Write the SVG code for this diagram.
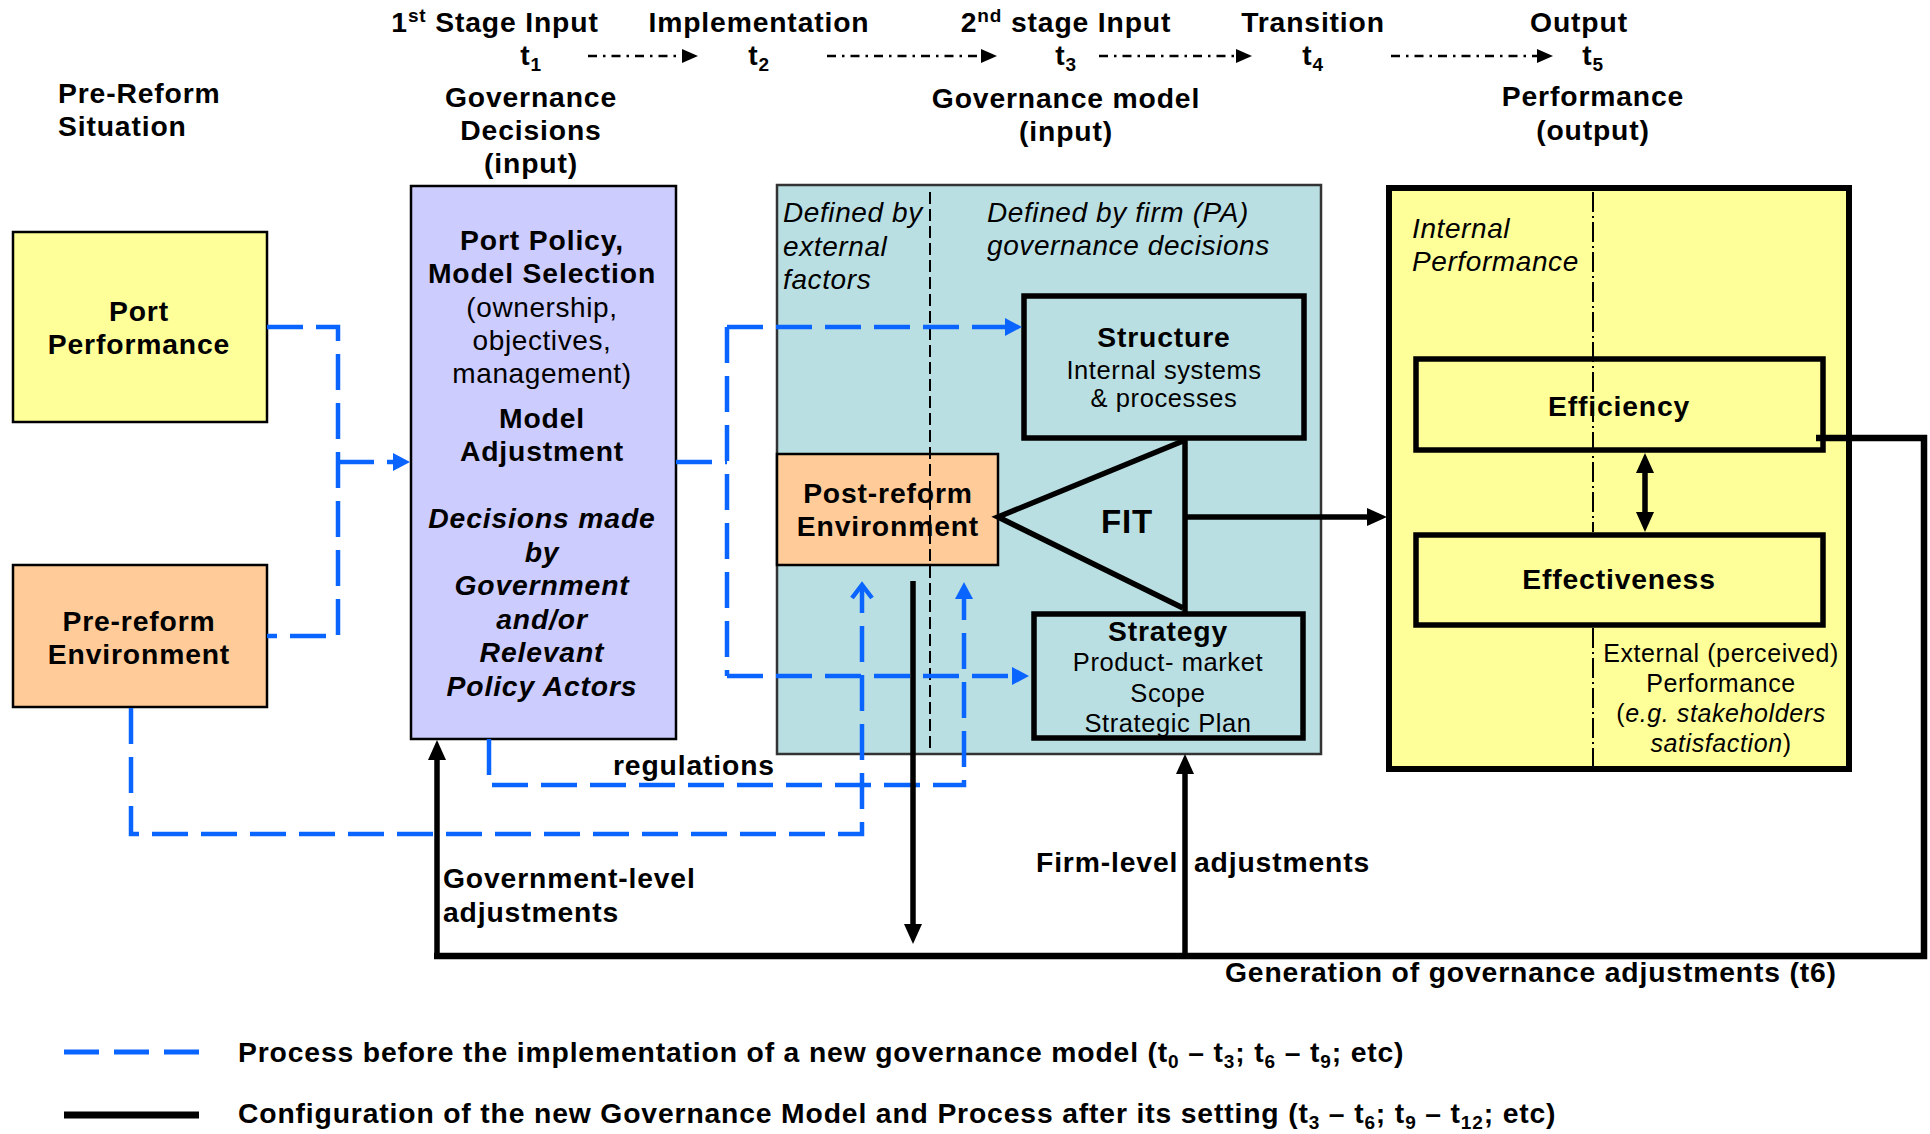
<svg xmlns="http://www.w3.org/2000/svg" width="1930" height="1134" viewBox="0 0 1930 1134">
<style>
text{font-family:"Liberation Sans",Arial,sans-serif;fill:#000}
.b{font-weight:bold;font-size:28.3px;letter-spacing:0.85px}
.r{font-size:25.5px;letter-spacing:0.6px}
.r28{font-size:28px;letter-spacing:0.6px}
.i{font-style:italic;font-size:28px;letter-spacing:0.6px}
.bi{font-weight:bold;font-style:italic;font-size:28.3px;letter-spacing:0.85px}
.m{text-anchor:middle}
.s{font-size:19px}
.box{stroke:#000;stroke-width:2.5}
.thick{fill:none;stroke:#000;stroke-width:5.5}
.blue{fill:none;stroke:#0A64FF;stroke-width:4.5;stroke-dasharray:36 13}
.blk{fill:none;stroke:#000;stroke-width:5.5}
.hdr{fill:none;stroke:#000;stroke-width:2.5;stroke-dasharray:9 6 2.5 6}
</style>
<defs>
<marker id="ah" markerUnits="userSpaceOnUse" markerWidth="16" markerHeight="14" refX="8" refY="7" orient="auto"><path d="M0,0L16,7L0,14z" fill="#000"/></marker>
<marker id="ab" markerUnits="userSpaceOnUse" markerWidth="20" markerHeight="18" refX="10" refY="9" orient="auto-start-reverse"><path d="M0,0L20,9L0,18z" fill="#000"/></marker>
<marker id="abl" markerUnits="userSpaceOnUse" markerWidth="17" markerHeight="18" refX="9" refY="9" orient="auto"><path d="M0,0L17,9L0,18z" fill="#0A64FF"/></marker>
<marker id="aop" markerUnits="userSpaceOnUse" markerWidth="18" markerHeight="24" refX="15" refY="12" orient="auto" style="overflow:visible"><path d="M2,2L15,12L2,22" fill="none" stroke="#0A64FF" stroke-width="4.5"/></marker>
</defs>
<rect width="1930" height="1134" fill="#fff"/>

<g id="header">
<text class="b m" x="495" y="32">1<tspan class="s" dy="-10">st</tspan><tspan dy="10"> Stage Input</tspan></text>
<text class="b m" x="759" y="32">Implementation</text>
<text class="b m" x="1066" y="32">2<tspan class="s" dy="-10">nd</tspan><tspan dy="10"> stage Input</tspan></text>
<text class="b m" x="1313" y="32">Transition</text>
<text class="b m" x="1579" y="32">Output</text>
<text class="b m" x="531" y="65">t<tspan class="s" dy="6">1</tspan></text>
<text class="b m" x="759" y="65">t<tspan class="s" dy="6">2</tspan></text>
<text class="b m" x="1066" y="65">t<tspan class="s" dy="6">3</tspan></text>
<text class="b m" x="1313" y="65">t<tspan class="s" dy="6">4</tspan></text>
<text class="b m" x="1593" y="65">t<tspan class="s" dy="6">5</tspan></text>
<path class="hdr" d="M588,56H690" marker-end="url(#ah)"/>
<path class="hdr" d="M827,56H989" marker-end="url(#ah)"/>
<path class="hdr" d="M1099,56H1244" marker-end="url(#ah)"/>
<path class="hdr" d="M1391,56H1545" marker-end="url(#ah)"/>
<text class="b" x="58" y="103">Pre-Reform</text>
<text class="b" x="58" y="136">Situation</text>
<text class="b m" x="531" y="107">Governance</text>
<text class="b m" x="531" y="140">Decisions</text>
<text class="b m" x="531" y="173">(input)</text>
<text class="b m" x="1066" y="108">Governance model</text>
<text class="b m" x="1066" y="141">(input)</text>
<text class="b m" x="1593" y="106">Performance</text>
<text class="b m" x="1593" y="140">(output)</text>
</g>

<g id="port-performance">
<rect class="box" x="13" y="232" width="254" height="190" fill="#FFFF99"/>
<text class="b m" x="139" y="321">Port</text>
<text class="b m" x="139" y="354">Performance</text>
</g>

<g id="pre-reform-environment">
<rect class="box" x="13" y="565" width="254" height="142" fill="#FFCC99"/>
<text class="b m" x="139" y="631">Pre-reform</text>
<text class="b m" x="139" y="664">Environment</text>
</g>

<g id="governance-decisions">
<rect class="box" x="411" y="186" width="265" height="553" fill="#CCCCFF"/>
<text class="b m" x="542" y="250">Port Policy,</text>
<text class="b m" x="542" y="283">Model Selection</text>
<text class="r28 m" x="542" y="317">(ownership,</text>
<text class="r28 m" x="542" y="350">objectives,</text>
<text class="r28 m" x="542" y="383">management)</text>
<text class="b m" x="542" y="428">Model</text>
<text class="b m" x="542" y="461">Adjustment</text>
<text class="bi m" x="542" y="528">Decisions made</text>
<text class="bi m" x="542" y="562">by</text>
<text class="bi m" x="542" y="595">Government</text>
<text class="bi m" x="542" y="629">and/or</text>
<text class="bi m" x="542" y="662">Relevant</text>
<text class="bi m" x="542" y="696">Policy Actors</text>
</g>

<g id="governance-model">
<rect x="777" y="185" width="544" height="569" fill="#BADFE3" stroke="#333" stroke-width="2.5"/>
<text class="i" x="783" y="222">Defined by</text>
<text class="i" x="783" y="256">external</text>
<text class="i" x="783" y="289">factors</text>
<text class="i" x="987" y="222">Defined by firm (PA)</text>
<text class="i" x="987" y="255">governance decisions</text>
</g>

<g id="post-reform-environment">
<rect class="box" x="777" y="454" width="221" height="111" fill="#FFCC99"/>
<text class="b m" x="888" y="503">Post-reform</text>
<text class="b m" x="888" y="536">Environment</text>
</g>

<g id="model-divider">
<line x1="930" y1="192" x2="930" y2="752" stroke="#000" stroke-width="2" stroke-dasharray="12 5"/>
</g>

<g id="structure">
<rect class="thick" x="1024" y="296" width="280" height="142" fill="#BADFE3"/>
<text class="b m" x="1164" y="347">Structure</text>
<text class="r m" x="1164" y="379">Internal systems</text>
<text class="r m" x="1164" y="407">&amp; processes</text>
</g>

<g id="strategy">
<rect class="thick" x="1034" y="614" width="269" height="124" fill="#BADFE3"/>
<text class="b m" x="1168" y="641">Strategy</text>
<text class="r m" x="1168" y="671">Product- market</text>
<text class="r m" x="1168" y="702">Scope</text>
<text class="r m" x="1168" y="732">Strategic Plan</text>
</g>

<g id="fit">
<path class="thick" d="M1183,441L998,517L1183,608"/>
<line x1="1185" y1="440" x2="1185" y2="612" stroke="#000" stroke-width="5.5"/>
<text class="b m" x="1127" y="533" style="font-size:33px">FIT</text>
</g>

<g id="performance">
<rect x="1389" y="188" width="460" height="581" fill="#FFFF99" stroke="#000" stroke-width="6"/>
<text class="i" x="1412" y="238">Internal</text>
<text class="i" x="1412" y="271">Performance</text>
<text class="r m" x="1721" y="662" style="font-size:25px">External (perceived)</text>
<text class="r m" x="1721" y="692" style="font-size:25px">Performance</text>
<text class="r m" x="1721" y="722" style="font-size:25px">(<tspan font-style="italic">e.g. stakeholders</tspan></text>
<text class="r m" x="1721" y="752" style="font-size:25px"><tspan font-style="italic">satisfaction</tspan>)</text>
</g>

<g id="efficiency">
<rect class="thick" x="1416" y="359" width="407" height="91" fill="#FFFF99"/>
<text class="b m" x="1619" y="416">Efficiency</text>
</g>

<g id="effectiveness">
<rect class="thick" x="1416" y="535" width="407" height="90" fill="#FFFF99"/>
<text class="b m" x="1619" y="589">Effectiveness</text>
</g>

<g id="performance-divider" stroke="#000" stroke-width="2" stroke-dasharray="20 4 2 4">
<line x1="1593" y1="192" x2="1593" y2="532"/>
<line x1="1593" y1="628" x2="1593" y2="766"/>
</g>

<g id="connectors">
<path class="blue" d="M267,327H338V636H267"/>
<path class="blue" d="M338,462H402" marker-end="url(#abl)"/>
<path class="blue" d="M676,462H727"/>
<path class="blue" d="M727,327V676"/>
<path class="blue" d="M727,327H1014" marker-end="url(#abl)"/>
<path class="blue" d="M727,676H1021" marker-end="url(#abl)"/>
<path class="blue" d="M131,708V834H862V585" marker-end="url(#aop)"/>
<path class="blue" d="M489,739V785H964V590" marker-end="url(#abl)"/>
<path class="blk" d="M1185,517H1377" marker-end="url(#ab)"/>
<path class="blk" d="M1645,463V522" marker-start="url(#ab)" marker-end="url(#ab)"/>
<path class="blk" d="M913,581V934" marker-end="url(#ab)"/>
<path fill="none" stroke="#000" stroke-width="6.5" d="M1816,438H1924V956H434"/>
<path class="blk" d="M437,956V750" marker-end="url(#ab)"/>
<path class="blk" d="M1185,956V764" marker-end="url(#ab)"/>
<text class="b" x="613" y="775">regulations</text>
<text class="b" x="443" y="888">Government-level</text>
<text class="b" x="443" y="922">adjustments</text>
<text class="b" x="1036" y="872">Firm-level</text>
<text class="b" x="1194" y="872">adjustments</text>
<text class="b" x="1225" y="982">Generation of governance adjustments (t6)</text>
</g>

<g id="legend">
<line x1="64" y1="1052" x2="199" y2="1052" stroke="#0A64FF" stroke-width="5" stroke-dasharray="35 15"/>
<line x1="64" y1="1115" x2="199" y2="1115" stroke="#000" stroke-width="7"/>
<text class="b" x="238" y="1062">Process before the implementation of a new governance model (t<tspan class="s" dy="6">0</tspan><tspan dy="-6"> – t</tspan><tspan class="s" dy="6">3</tspan><tspan dy="-6">; t</tspan><tspan class="s" dy="6">6</tspan><tspan dy="-6"> – t</tspan><tspan class="s" dy="6">9</tspan><tspan dy="-6">; etc)</tspan></text>
<text class="b" x="238" y="1123">Configuration of the new Governance Model and Process after its setting (t<tspan class="s" dy="6">3</tspan><tspan dy="-6"> – t</tspan><tspan class="s" dy="6">6</tspan><tspan dy="-6">; t</tspan><tspan class="s" dy="6">9</tspan><tspan dy="-6"> – t</tspan><tspan class="s" dy="6">12</tspan><tspan dy="-6">; etc)</tspan></text>
</g>
</svg>
